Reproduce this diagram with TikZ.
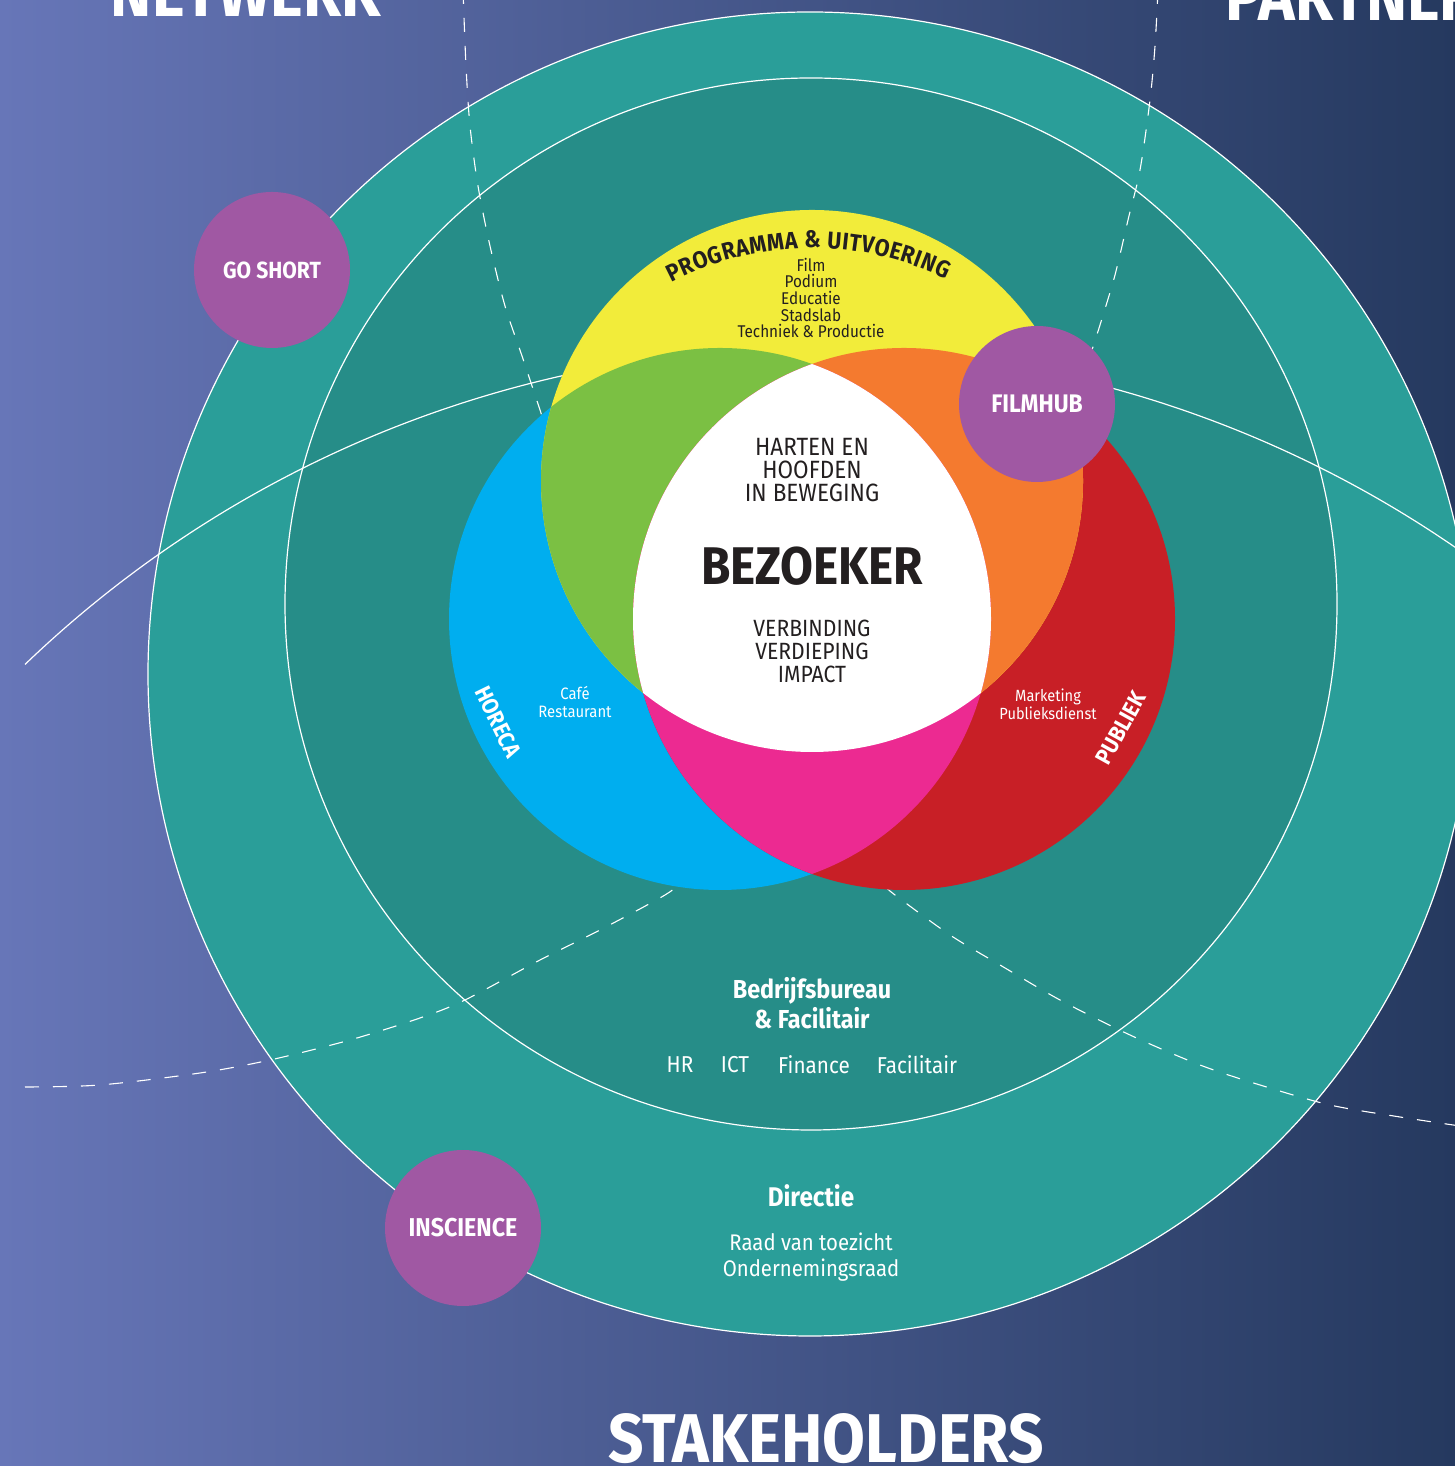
\documentclass[tikz,border=0pt]{standalone}
\usepackage{fontspec}
\setmainfont{Fira Sans}[FakeStretch=0.9]
\usetikzlibrary{decorations.text}
\definecolor{bgleft}{RGB}{103,118,184}
\definecolor{bgmid}{RGB}{78,94,150}
\definecolor{bgright}{RGB}{37,57,95}
\definecolor{ringout}{RGB}{42,158,153}
\definecolor{ringin}{RGB}{38,141,136}
\definecolor{cyellow}{RGB}{242,236,58}
\definecolor{cgreen}{RGB}{123,192,67}
\definecolor{corange}{RGB}{244,122,47}
\definecolor{cblue}{RGB}{0,174,239}
\definecolor{cred}{RGB}{200,31,38}
\definecolor{cmagenta}{RGB}{236,42,145}
\definecolor{cpurple}{RGB}{160,88,163}
\definecolor{txtdark}{RGB}{35,31,32}
\tikzset{
  wtxt/.style={text=white, align=center, inner sep=0pt},
  dtxt/.style={text=txtdark, align=center, inner sep=0pt},
  purp/.style={circle, fill=cpurple, minimum size=156pt, inner sep=0pt, text=white},
  dashline/.style={draw=white, line width=1.1pt, dash pattern=on 14pt off 14pt},
  thinwhite/.style={draw=white, line width=1.2pt},
  headline/.style={text=white, inner sep=0pt, font=\fontsize{69}{69}\selectfont\bfseries},
}
\begin{document}
\begin{tikzpicture}[x=1pt,y=1pt]
\useasboundingbox (0,0) rectangle (1455,1466);
\clip (0,0) rectangle (1455,1466);
% background
\shade[left color=bgleft, middle color=bgmid, right color=bgright] (0,0) rectangle (1455,1466);
% centres
\coordinate (Oc) at (810,792);
\coordinate (Ic) at (811,862);
\coordinate (Ac) at (812,-19);
\coordinate (Yc) at (812,985);
\coordinate (Bc) at (720,847);
\coordinate (Rc) at (904,847);
\coordinate (Tc) at (812,913);
% rings
\fill[ringout, thinwhite] (Oc) circle[radius=662];
\fill[ringin, thinwhite] (Ic) circle[radius=526];
% big arc
\draw[thinwhite] (Ac) ++(133.8:1137) arc[start angle=133.8, end angle=50, radius=1137];
% dashed dividers
\draw[dashline] plot[smooth] coordinates {(463,1476) (466,1400) (470,1340) (478,1280) (490,1220) (505,1160) (522,1110) (540,1056) (550,1025)};
\draw[dashline] plot[smooth] coordinates {(1158,1476) (1155,1420) (1150,1366) (1140,1296) (1128,1246) (1115,1191) (1100,1141) (1090,1110)};
\draw[dashline] plot[smooth] coordinates {(25,379) (100,381) (200,393) (270,406) (350,426) (420,448) (465,466) (540,506) (600,536) (665,571) (690,590)};
\draw[dashline] plot[smooth] coordinates {(885,580) (895,571) (950,531) (1000,501) (1060,466) (1130,431) (1200,401) (1260,381) (1330,361) (1400,349) (1460,340)};
% venn
\fill[cblue] (Bc) circle[radius=271];
\fill[cred] (Rc) circle[radius=271];
\fill[cyellow] (Yc) circle[radius=271];
\begin{scope}
  \clip (Yc) circle[radius=271];
  \fill[cgreen] (Bc) circle[radius=271];
  \fill[corange] (Rc) circle[radius=271];
\end{scope}
\begin{scope}
  \clip (Bc) circle[radius=271];
  \fill[cmagenta] (Rc) circle[radius=271];
\end{scope}
\begin{scope}
  \clip (Yc) circle[radius=271];
  \clip (Bc) circle[radius=271];
  \fill[white] (Rc) circle[radius=271];
\end{scope}
% purple circles
\node[purp, font=\fontsize{23.4}{23.4}\selectfont\bfseries] (goshort) at (272,1196) {GO SHORT};
\node[purp, font=\fontsize{25.4}{25.4}\selectfont\bfseries] (filmhub) at (1037,1062) {FILMHUB};
\node[purp, font=\fontsize{25.8}{25.8}\selectfont\bfseries] (inscience) at (463,238) {INSCIENCE};
% headings
\node[headline, anchor=base] (netwerk) at (246,1449) {NETWERK};
\node[headline, anchor=base west] (partners) at (1225,1445) {PARTNERS};
\node[headline, anchor=base] (stakeholders) at (826,3) {STAKEHOLDERS};
% arc title
\path[decorate, decoration={text along path, text format delimiters={|}{|},
  text={|\fontsize{24}{24}\selectfont\bfseries|PROGRAMMA {\&} UITVOERING},
  text color=txtdark, text align=fit to path}]
  (Tc) ++(117.5:305) arc[start angle=117.5, end angle=64, radius=305];
\node[dtxt, font=\fontsize{17}{16.6}\selectfont] (prog) at (811,1168)
  {Film\\Podium\\Educatie\\Stadslab\\Techniek \& Productie};
% centre
\node[dtxt, font=\fontsize{25}{23}\selectfont] (harten) at (812,996)
  {HARTEN EN\\HOOFDEN\\IN BEWEGING};
\node[dtxt, font=\fontsize{53}{53}\selectfont\bfseries] (bezoeker) at (812,900) {BEZOEKER};
\node[dtxt, font=\fontsize{23.5}{23}\selectfont] (verbinding) at (812,815)
  {VERBINDING\\VERDIEPING\\IMPACT};
% horeca
\node[wtxt, font=\fontsize{16.5}{17.5}\selectfont] (cafe) at (575,764) {Café\\Restaurant};
\node[wtxt, font=\fontsize{23}{23}\selectfont\bfseries, rotate=-64] (horeca) at (498,744) {HORECA};
% publiek
\node[wtxt, font=\fontsize{16.2}{17.5}\selectfont] (marketing) at (1048,761.5) {Marketing\\Publieksdienst};
\node[wtxt, font=\fontsize{23}{23}\selectfont\bfseries, rotate=61] (publiek) at (1121,738) {PUBLIEK};
% bedrijfsbureau
\node[wtxt, font=\fontsize{26}{30}\selectfont\bfseries] (bedrijf) at (812,463)
  {Bedrijfsbureau\\\& Facilitair};
\node[wtxt, font=\fontsize{23}{23}\selectfont] (hr) at (680,401) {HR};
\node[wtxt, font=\fontsize{23}{23}\selectfont] (ict) at (735,401) {ICT};
\node[wtxt, font=\fontsize{23}{23}\selectfont] (finance) at (814,401) {Finance};
\node[wtxt, font=\fontsize{23}{23}\selectfont] (facilitair) at (917,401) {Facilitair};
% directie
\node[wtxt, font=\fontsize{27}{27}\selectfont\bfseries] (directie) at (811,270) {Directie};
\node[wtxt, font=\fontsize{22.6}{26}\selectfont] (raad) at (811,209)
  {Raad van toezicht\\Ondernemingsraad};
\end{tikzpicture}
\end{document}
